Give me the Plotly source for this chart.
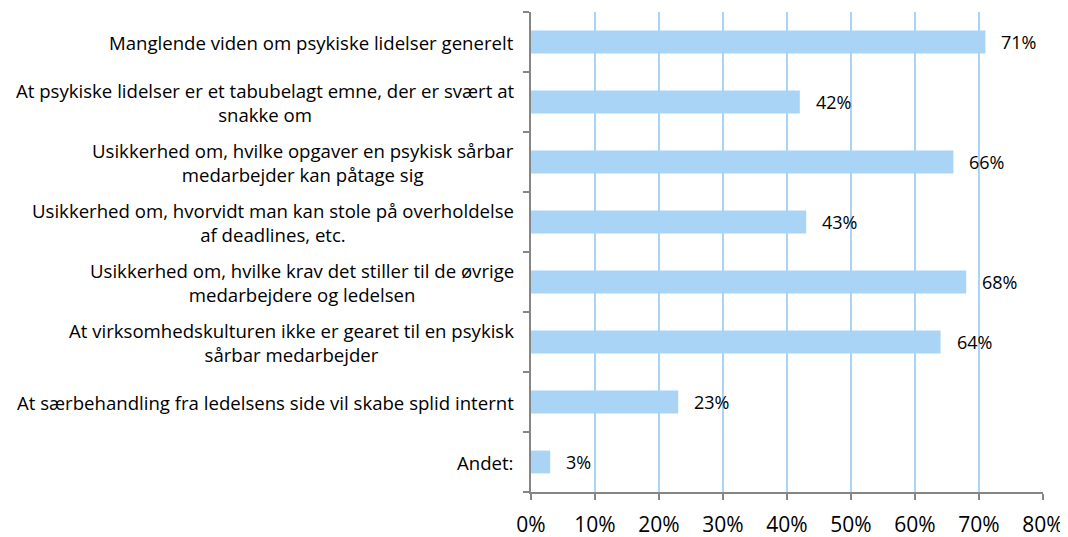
import plotly.graph_objects as go

categories = [
    "Manglende viden om psykiske lidelser generelt",
    "At psykiske lidelser er et tabubelagt emne, der er svært at<br>snakke om",
    "Usikkerhed om, hvilke opgaver en psykisk sårbar<br>medarbejder kan påtage sig",
    "Usikkerhed om, hvorvidt man kan stole på overholdelse<br>af deadlines, etc.",
    "Usikkerhed om, hvilke krav det stiller til de øvrige<br>medarbejdere og ledelsen",
    "At virksomhedskulturen ikke er gearet til en psykisk<br>sårbar medarbejder",
    "At særbehandling fra ledelsens side vil skabe splid internt",
    "Andet:",
]
values = [0.71, 0.42, 0.66, 0.43, 0.68, 0.64, 0.23, 0.03]
tick_vals = [0, 0.1, 0.2, 0.3, 0.4, 0.5, 0.6, 0.7, 0.8]
tick_text = ["0%", "10%", "20%", "30%", "40%", "50%", "60%", "70%", "80%"]

FONT = "'Open Sans', sans-serif"
BAR = "#A9D4F5"
GRID = "#A9D4F5"
AXIS = "#868686"

fig = go.Figure()
fig.add_trace(go.Bar(
    x=values, y=list(range(len(categories))), orientation="h",
    marker=dict(color=BAR, line=dict(width=0)),
    hoverinfo="skip",
))

annotations = []
for i, (c, v) in enumerate(zip(categories, values)):
    annotations.append(dict(
        x=0, xref="paper", y=i, yref="y", text=c, showarrow=False,
        xanchor="right", yanchor="middle", align="center", xshift=-15,
        font=dict(family=FONT, size=18.6, color="#000000"),
    ))
    annotations.append(dict(
        x=v, xref="x", y=i, yref="y", text=f"{round(v*100)}%", showarrow=False,
        xanchor="left", yanchor="middle", xshift=14,
        font=dict(family=FONT, size=18, color="#000000"),
    ))

fig.update_layout(
    width=1060, height=529,
    margin=dict(l=523, r=25, t=4, b=45, autoexpand=False),
    paper_bgcolor="white", plot_bgcolor="white",
    showlegend=False, bargap=0.62,
    annotations=annotations,
    xaxis=dict(
        range=[0, 0.8], tickvals=tick_vals, ticktext=tick_text,
        showgrid=True, gridcolor=GRID, gridwidth=2,
        showline=True, linecolor=AXIS, linewidth=1.5,
        ticks="outside", ticklen=6, tickcolor=AXIS, tickwidth=1.5,
        ticklabelstandoff=7,
        tickfont=dict(family=FONT, size=21, color="#000000"),
        zeroline=False, fixedrange=True, automargin=False,
    ),
    yaxis=dict(
        range=[len(categories) - 0.5, -0.5],
        tickvals=[i - 0.5 for i in range(len(categories) + 1)],
        ticktext=[""] * (len(categories) + 1),
        showgrid=False, showline=True, linecolor=AXIS, linewidth=1.5,
        ticks="outside", ticklen=6, tickcolor=AXIS, tickwidth=1.5,
        zeroline=False, fixedrange=True, automargin=False,
    ),
)

fig.write_html("out.html")
